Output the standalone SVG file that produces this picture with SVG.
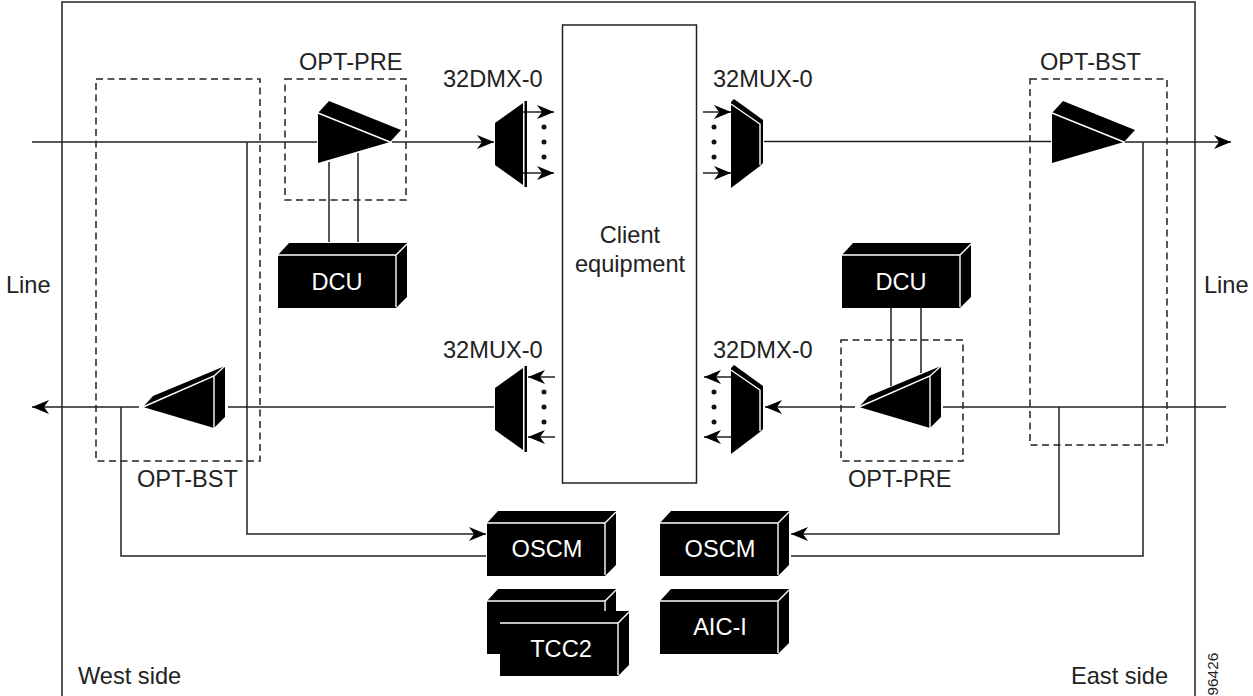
<svg xmlns="http://www.w3.org/2000/svg" width="1253" height="696" viewBox="0 0 1253 696">
<style>
text{font-family:"Liberation Sans",Arial,sans-serif;font-size:23.6px;fill:#222}
.w{fill:#fff;text-anchor:middle}
.c{fill:none;stroke:#222;stroke-width:1.5}
.a{marker-end:url(#arrow)}
.d{fill:none;stroke:#222;stroke-width:1.5;stroke-dasharray:7 4.5}
.k{fill:#000}
.l{fill:none;stroke:#fff;stroke-width:1.4}
.dot{fill:#111}
</style>
<defs>
<marker id="arrow" markerUnits="userSpaceOnUse" markerWidth="18" markerHeight="16" refX="17" refY="7.5" orient="auto" overflow="visible">
<path d="M0,0.5 L17,7.5 L0,14.5 L5,7.5 Z" fill="#000"/>
</marker>
<g id="box">
<path class="k" d="M0,12 L11,0 L129,0 L129,54 L118,65 L0,65 Z"/>
<path class="l" d="M0,12 L118,12 L129,1 M118,12 L118,64"/>
</g>
<g id="ampR">
<path class="k" d="M0,12 L11,0 L83,29 L72,41 L0,62 Z"/>
<path class="l" d="M0,12 L72,41"/>
</g>
<g id="ampL">
<path class="k" d="M0,41 L10,30 L82,0 L82,51 L71,62 Z"/>
<path class="l" d="M0,41 L71,10 L82,0 M71,10 L71,62"/>
</g>
<g id="trapL">
<path class="k" d="M0,20 L28,0 L28,82 L0,62 Z"/>
<path class="k" d="M29.5,-2 L32,-2 L32,84 L29.5,84 Z"/>
</g>
<g id="trapR">
<path class="k" d="M0,0 L3,-3 L32,18 L32,61 L29,64 L0,86 Z"/>
<path class="l" d="M0,2 L29,22 L29,63"/>
</g>
</defs>
<rect x="62" y="2" width="1133" height="700" class="c" id="frame"/>
<rect x="562.500" y="25" width="134" height="458" class="c" id="client-box"/>
<g id="connectors">
<path class="c" d="M32,142 L317,142"/>
<path class="c a" d="M392,142 L494,142"/>
<path class="c a" d="M523,112 L554,112"/>
<path class="c a" d="M523,173 L554,173"/>
<path class="c a" d="M703,112 L731,112"/>
<path class="c a" d="M703,173 L731,173"/>
<path class="c" d="M764,141.500 L1051,141.500"/>
<path class="c a" d="M1125,142 L1231,142"/>
<path class="c a" d="M139,407 L32,407"/>
<path class="c" d="M228,407 L494,407"/>
<path class="c a" d="M555,377 L528,377"/>
<path class="c a" d="M555,437 L528,437"/>
<path class="c a" d="M731,377 L704,377"/>
<path class="c a" d="M731,437 L704,437"/>
<path class="c a" d="M855,407 L765,407"/>
<path class="c" d="M943,407 L1226,407"/>
<path class="c" d="M329,162 L329,242 M358,153 L358,242"/>
<path class="c" d="M891,306 L891,386 M921,306 L921,373"/>
<path class="c a" d="M247,142 L247,534 L486,534"/>
<path class="c" d="M121,407 L121,556 L486,556"/>
<path class="c a" d="M1059,407 L1059,534 L791,534"/>
<path class="c" d="M1143,142 L1143,556 L791,556"/>
</g>
<g id="opt-pre-west">
<rect class="d" x="285" y="79" width="121" height="121"/>
<use href="#ampR" x="318" y="101"/>
<text x="299" y="70">OPT-PRE</text>
</g>
<g id="opt-bst-west">
<rect class="d" x="96" y="79" width="164" height="382"/>
<use href="#ampL" x="143" y="366"/>
<text x="137" y="487">OPT-BST</text>
</g>
<g id="opt-bst-east">
<rect class="d" x="1030" y="79" width="137" height="366"/>
<use href="#ampR" x="1052" y="101"/>
<text x="1040" y="70">OPT-BST</text>
</g>
<g id="opt-pre-east">
<rect class="d" x="841" y="340" width="122" height="121"/>
<use href="#ampL" x="859" y="366"/>
<text x="848" y="487">OPT-PRE</text>
</g>
<g id="dmx-west">
<use href="#trapL" x="495" y="103"/>
<circle class="dot" cx="544" cy="127" r="2.500"/><circle class="dot" cx="544" cy="142" r="2.500"/><circle class="dot" cx="544" cy="157" r="2.500"/>
<text x="443" y="87">32DMX-0</text>
</g>
<g id="mux-east">
<use href="#trapR" x="731" y="102"/>
<circle class="dot" cx="714" cy="127" r="2.500"/><circle class="dot" cx="714" cy="142" r="2.500"/><circle class="dot" cx="714" cy="157" r="2.500"/>
<text x="713" y="87">32MUX-0</text>
</g>
<g id="mux-west">
<use href="#trapL" x="495" y="368"/>
<circle class="dot" cx="544" cy="392" r="2.500"/><circle class="dot" cx="544" cy="407" r="2.500"/><circle class="dot" cx="544" cy="422" r="2.500"/>
<text x="443" y="358">32MUX-0</text>
</g>
<g id="dmx-east">
<use href="#trapR" x="731" y="368"/>
<circle class="dot" cx="714" cy="392" r="2.500"/><circle class="dot" cx="714" cy="407" r="2.500"/><circle class="dot" cx="714" cy="422" r="2.500"/>
<text x="713" y="358">32DMX-0</text>
</g>
<g id="client"><text x="630" y="243" text-anchor="middle">Client</text><text x="630" y="272" text-anchor="middle">equipment</text></g>
<g id="dcu-west"><use href="#box" x="278" y="243"/><text class="w" x="337" y="290">DCU</text></g>
<g id="dcu-east"><use href="#box" x="842" y="243"/><text class="w" x="901" y="290">DCU</text></g>
<g id="oscm-west"><use href="#box" x="487" y="511"/><text class="w" x="547" y="557">OSCM</text></g>
<g id="oscm-east"><use href="#box" x="660" y="511"/><text class="w" x="720" y="557">OSCM</text></g>
<g id="tcc2-back"><use href="#box" x="487" y="589"/></g>
<g id="tcc2"><use href="#box" x="500" y="611"/><text class="w" x="561" y="657">TCC2</text></g>
<g id="aic-i"><use href="#box" x="660" y="589"/><text class="w" x="720" y="635">AIC-I</text></g>
<text id="line-west" x="6" y="293">Line</text>
<text id="line-east" x="1204" y="293">Line</text>
<text id="west-side" x="78" y="684">West side</text>
<text id="east-side" x="1071" y="684">East side</text>
<text id="figure-number" transform="translate(1218,695.5) rotate(-90)" style="font-size:15.4px">96426</text>
</svg>
